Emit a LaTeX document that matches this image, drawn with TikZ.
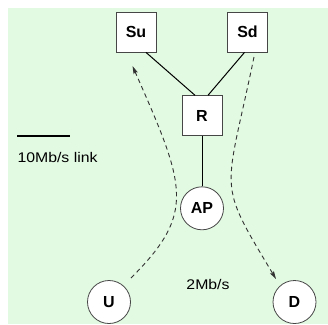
\documentclass[tikz,border=0pt]{standalone}
\usepackage{fontspec}
\setmainfont{Liberation Sans}
\newfontfamily\widefont[FakeStretch=1.13]{Liberation Sans}
\usetikzlibrary{arrows.meta}
\definecolor{bggreen}{RGB}{226,249,226}
\definecolor{edge}{RGB}{70,70,70}
\definecolor{flow}{RGB}{50,50,50}
\tikzset{
  boxnode/.style={draw=edge, line width=0.8pt, fill=white, minimum size=40pt, inner sep=0pt, font=\fontsize{16}{18}\selectfont\bfseries},
  circnode/.style={circle, draw=edge, line width=0.8pt, fill=white, minimum size=43pt, inner sep=0pt, font=\fontsize{16}{18}\selectfont\bfseries},
  wire/.style={line width=1pt, black},
  flowline/.style={flow, line width=0.9pt, dash pattern=on 4.5pt off 3.5pt, -{Stealth[length=8pt,width=4.5pt,inset=1.5pt]}},
  lbl/.style={font=\widefont\fontsize{14}{16}\selectfont, inner sep=0pt}
}
\begin{document}
\begin{tikzpicture}[x=1pt,y=-1pt]
\useasboundingbox (0,0) rectangle (328,324);
\fill[bggreen] (8,8) rectangle (328,324);
\node[boxnode] (Su) at (136,32) {Su};
\node[boxnode] (Sd) at (247.5,32) {Sd};
\node[boxnode] (R) at (202,115.7) {R};
\node[circnode] (AP) at (202,208.3) {AP};
\node[circnode] (U) at (109,302) {U};
\node[circnode] (D) at (294.5,302) {D};
\draw[wire] ([xshift=10pt]Su.south) -- ([xshift=-7pt]R.north);
\draw[wire] ([xshift=-3pt]Sd.south) -- ([xshift=6pt]R.north);
\draw[line width=0.8pt] (R.south) -- (AP.north);
\coordinate (l0) at (131,278);
\coordinate (l1) at (132.5,66);
\coordinate (r0) at (254,57);
\coordinate (r1) at (276,279);
\draw[flowline] (l0) .. controls (196,213) and (186,187) .. (l1);
\draw[flowline] (r0) .. controls (225,197) and (216,179) .. (r1);
\coordinate (k0) at (17.3,136);
\coordinate (k1) at (70,136);
\draw[line width=1.3pt] (k0) -- (k1);
\node[lbl, anchor=base west] (keytext) at (17.3,162) {10Mb/s link};
\node[lbl, anchor=base] (rate) at (208,289) {2Mb/s};
\end{tikzpicture}
\end{document}
